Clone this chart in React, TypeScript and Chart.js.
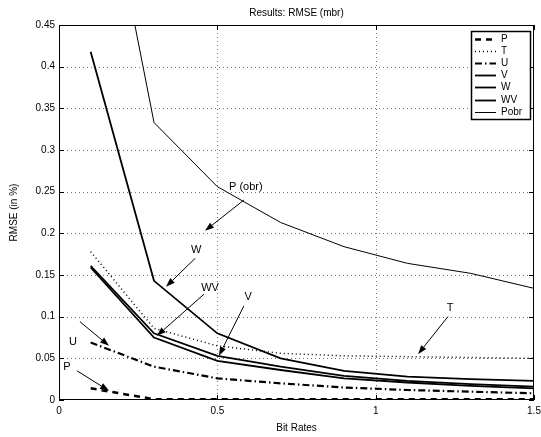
import React, { useEffect, useRef } from "react";
import { Chart, registerables } from "chart.js";

Chart.register(...registerables);

const bitRates = [0.1, 0.3, 0.5, 0.7, 0.9, 1.1, 1.3, 1.5];
const seriesP = [0.014, 0.001, 0.001, 0.001, 0.001, 0.001, 0.001, 0.001];
const seriesT = [0.178, 0.086, 0.065, 0.056, 0.053, 0.052, 0.051, 0.05];
const seriesU = [0.069, 0.04, 0.026, 0.02, 0.015, 0.012, 0.01, 0.008];
const seriesV = [0.161, 0.08, 0.053, 0.04, 0.029, 0.023, 0.019, 0.016];
const seriesW = [0.418, 0.143, 0.08, 0.05, 0.035, 0.028, 0.025, 0.023];
const seriesWV = [0.159, 0.075, 0.047, 0.036, 0.026, 0.021, 0.017, 0.014];
const seriesPobr = [0.72, 0.333, 0.256, 0.213, 0.184, 0.164, 0.152, 0.134];

const xTicks = [0, 0.5, 1, 1.5];
const yTicks = [0, 0.05, 0.1, 0.15, 0.2, 0.25, 0.3, 0.35, 0.4, 0.45];

const titleText = "Results: RMSE (mbr)";
const xTitle = "Bit Rates";
const yTitle = "RMSE (in %)";

// annotation labels: text position and arrow (from -> to), in data units
const noteLabels = ["P (obr)", "W", "WV", "V", "U", "P", "T"];
const noteTextX = [0.59, 0.433, 0.477, 0.597, 0.044, 0.025, 1.235];
const noteTextY = [0.256, 0.18, 0.134, 0.124, 0.07, 0.04, 0.11];
const noteFromX = [0.584, 0.43, 0.458, 0.584, 0.066, 0.057, 1.228];
const noteFromY = [0.24, 0.17, 0.127, 0.113, 0.094, 0.035, 0.1];
const noteToX = [0.461, 0.338, 0.309, 0.505, 0.158, 0.158, 1.134];
const noteToY = [0.203, 0.136, 0.077, 0.053, 0.065, 0.011, 0.055];

const FONT = "'Liberation Sans', Arial, Helvetica, sans-serif";

type SeriesDef = { label: string; values: number[]; width: number; dash: number[] };

const seriesDefs: SeriesDef[] = [
  { label: "P", values: seriesP, width: 2.5, dash: [6, 5] },
  { label: "T", values: seriesT, width: 1.5, dash: [1, 3] },
  { label: "U", values: seriesU, width: 2.2, dash: [7, 3, 1.5, 3] },
  { label: "V", values: seriesV, width: 1.8, dash: [] },
  { label: "W", values: seriesW, width: 1.8, dash: [] },
  { label: "WV", values: seriesWV, width: 1.8, dash: [] },
  { label: "Pobr", values: seriesPobr, width: 1, dash: [] },
];

function drawArrow(ctx: CanvasRenderingContext2D, x0: number, y0: number, x1: number, y1: number) {
  const ang = Math.atan2(y1 - y0, x1 - x0);
  const headLen = 9;
  const headW = 3.2;
  const bx = x1 - headLen * Math.cos(ang);
  const by = y1 - headLen * Math.sin(ang);
  ctx.beginPath();
  ctx.moveTo(x0, y0);
  ctx.lineTo(bx, by);
  ctx.lineWidth = 1;
  ctx.strokeStyle = "#000";
  ctx.setLineDash([]);
  ctx.stroke();
  ctx.beginPath();
  ctx.moveTo(x1, y1);
  ctx.lineTo(bx + headW * Math.sin(ang), by - headW * Math.cos(ang));
  ctx.lineTo(bx - headW * Math.sin(ang), by + headW * Math.cos(ang));
  ctx.closePath();
  ctx.fillStyle = "#000";
  ctx.fill();
}

const matlabPlugin = {
  id: "matlabDecor",
  beforeDatasetsDraw(chart: any) {
    const { ctx, chartArea } = chart;
    const xs = chart.scales.x;
    const ys = chart.scales.y;
    ctx.save();
    ctx.strokeStyle = "rgba(0,0,0,0.55)";
    ctx.lineWidth = 1;
    ctx.setLineDash([1, 3]);
    xTicks.forEach((v) => {
      const px = Math.round(xs.getPixelForValue(v)) + 0.5;
      if (px <= chartArea.left + 1 || px >= chartArea.right - 1) return;
      ctx.beginPath();
      ctx.moveTo(px, chartArea.top);
      ctx.lineTo(px, chartArea.bottom);
      ctx.stroke();
    });
    yTicks.forEach((v) => {
      const py = Math.round(ys.getPixelForValue(v)) + 0.5;
      if (py <= chartArea.top + 1 || py >= chartArea.bottom - 1) return;
      ctx.beginPath();
      ctx.moveTo(chartArea.left, py);
      ctx.lineTo(chartArea.right, py);
      ctx.stroke();
    });
    ctx.restore();
  },
  afterDraw(chart: any) {
    const { ctx, chartArea } = chart;
    const xs = chart.scales.x;
    const ys = chart.scales.y;
    const L = chartArea.left, R = chartArea.right, T = chartArea.top, B = chartArea.bottom;
    ctx.save();
    // frame
    ctx.setLineDash([]);
    ctx.strokeStyle = "#000";
    ctx.lineWidth = 1;
    ctx.strokeRect(Math.round(L) + 0.5, Math.round(T) + 0.5, Math.round(R - L) - 1, Math.round(B - T) - 1);
    // inward tick marks
    const tl = 5;
    xTicks.forEach((v) => {
      const px = Math.round(xs.getPixelForValue(v)) + 0.5;
      ctx.beginPath();
      ctx.moveTo(px, B);
      ctx.lineTo(px, B - tl);
      ctx.moveTo(px, T);
      ctx.lineTo(px, T + tl);
      ctx.stroke();
    });
    yTicks.forEach((v) => {
      const py = Math.round(ys.getPixelForValue(v)) + 0.5;
      ctx.beginPath();
      ctx.moveTo(L, py);
      ctx.lineTo(L + tl, py);
      ctx.moveTo(R, py);
      ctx.lineTo(R - tl, py);
      ctx.stroke();
    });

    // titles
    ctx.fillStyle = "#000";
    ctx.font = `10px ${FONT}`;
    ctx.textAlign = "center";
    ctx.textBaseline = "middle";
    ctx.fillText(titleText, (L + R) / 2, 13);
    ctx.fillText(xTitle, (L + R) / 2, 428);
    ctx.save();
    ctx.translate(14, (T + B) / 2);
    ctx.rotate(-Math.PI / 2);
    ctx.fillText(yTitle, 0, 0);
    ctx.restore();

    // annotations
    ctx.font = `11px ${FONT}`;
    noteLabels.forEach((lab, i) => {
      const tx = xs.getPixelForValue(noteTextX[i]);
      const ty = ys.getPixelForValue(noteTextY[i]);
      ctx.fillStyle = "#000";
      ctx.textAlign = "center";
      ctx.textBaseline = "middle";
      ctx.fillText(lab, tx, ty);
      drawArrow(
        ctx,
        xs.getPixelForValue(noteFromX[i]),
        ys.getPixelForValue(noteFromY[i]),
        xs.getPixelForValue(noteToX[i]),
        ys.getPixelForValue(noteToY[i])
      );
    });

    // legend box
    const bx = 471, by = 31, bw = 59, bh = 88;
    ctx.fillStyle = "#fff";
    ctx.fillRect(bx, by, bw, bh);
    ctx.strokeStyle = "#000";
    ctx.lineWidth = 1.5;
    ctx.setLineDash([]);
    ctx.strokeRect(bx + 0.5, by + 0.5, bw, bh);
    ctx.font = `10px ${FONT}`;
    ctx.textAlign = "left";
    ctx.textBaseline = "middle";
    const rowH = 12.2;
    seriesDefs.forEach((s, i) => {
      const cy = Math.round(by + 7.5 + i * rowH) + 0.5;
      ctx.beginPath();
      ctx.strokeStyle = "#000";
      ctx.lineWidth = s.width;
      ctx.setLineDash(s.dash);
      ctx.moveTo(475, cy);
      ctx.lineTo(496, cy);
      ctx.stroke();
      ctx.setLineDash([]);
      ctx.fillStyle = "#000";
      ctx.fillText(s.label, 501, cy);
    });
    ctx.restore();
  },
};

export default function App() {
  const canvasRef = useRef<HTMLCanvasElement | null>(null);

  useEffect(() => {
    const canvas = canvasRef.current;
    if (!canvas) return;
    const chart = new Chart(canvas, {
      type: "line",
      data: {
        datasets: seriesDefs.map((s) => ({
          label: s.label,
          data: bitRates.map((x, i) => ({ x, y: s.values[i] })),
          borderColor: "#000",
          backgroundColor: "#000",
          borderWidth: s.width,
          borderDash: s.dash,
          pointRadius: 0,
          pointHoverRadius: 0,
          tension: 0,
          fill: false,
        })),
      },
      options: {
        responsive: false,
        animation: false,
        devicePixelRatio: 1,
        events: [],
        layout: { padding: { top: 25, right: 7, left: 0, bottom: 0 } },
        plugins: {
          legend: { display: false },
          title: { display: false },
          tooltip: { enabled: false },
        },
        scales: {
          x: {
            type: "linear",
            min: 0,
            max: 1.5,
            afterBuildTicks: (scale: any) => {
              scale.ticks = xTicks.map((v) => ({ value: v }));
            },
            afterFit: (scale: any) => {
              scale.height = 37;
              scale.paddingLeft = 0;
              scale.paddingRight = 0;
            },
            grid: { display: false, drawTicks: false },
            border: { display: false },
            ticks: {
              color: "#000",
              font: { family: FONT, size: 10 },
              padding: 5,
              maxRotation: 0,
              autoSkip: false,
              callback: (v: any) => String(v),
            },
          },
          y: {
            type: "linear",
            min: 0,
            max: 0.45,
            afterBuildTicks: (scale: any) => {
              scale.ticks = yTicks.map((v) => ({ value: v }));
            },
            afterFit: (scale: any) => {
              scale.width = 59;
              scale.paddingTop = 0;
              scale.paddingBottom = 0;
            },
            grid: { display: false, drawTicks: false },
            border: { display: false },
            ticks: {
              color: "#000",
              font: { family: FONT, size: 10 },
              padding: 4,
              autoSkip: false,
              callback: (v: any) => String(v),
            },
          },
        },
      },
      plugins: [matlabPlugin],
    } as any);
    return () => chart.destroy();
  }, []);

  return (
    <div style={{ position: "absolute", left: 0, top: 0, width: 541, height: 437, background: "#fff" }}>
      <canvas ref={canvasRef} width={541} height={437} style={{ width: 541, height: 437, display: "block" }} />
    </div>
  );
}
